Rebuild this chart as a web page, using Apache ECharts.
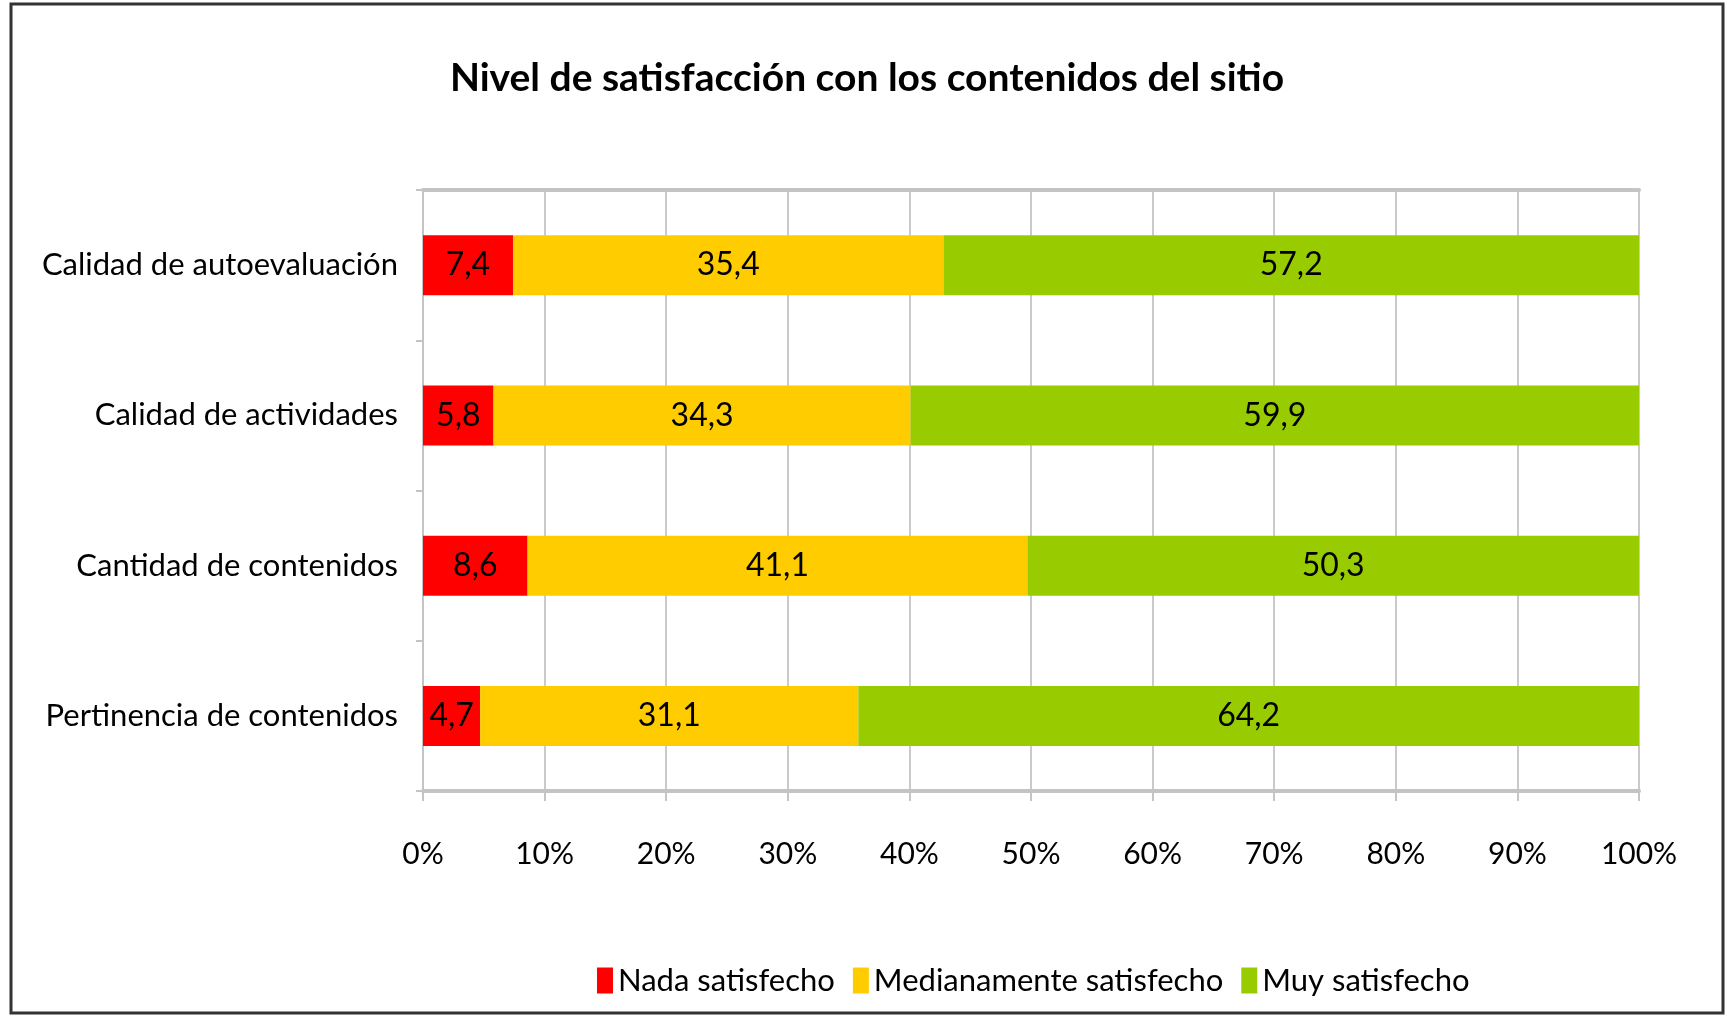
<!DOCTYPE html>
<html>
<head>
<meta charset="utf-8">
<script src="https://cdn.jsdelivr.net/npm/echarts@6/dist/echarts.min.js"></script>
<style>
  html, body { margin: 0; padding: 0; background: #fff; }
  #chart { width: 1727px; height: 1016px; }
</style>
</head>
<body>
<div id="chart"></div>
<script>
// datos (porcentajes)
var categorias = [
  "Calidad de autoevaluación",
  "Calidad de actividades",
  "Cantidad de contenidos",
  "Pertinencia de contenidos"
];
var nadaSatisfecho = [7.4, 5.8, 8.6, 4.7];
var medianamenteSatisfecho = [35.4, 34.3, 41.1, 31.1];
var muySatisfecho = [57.2, 59.9, 50.3, 64.2];
var nombresSeries = ["Nada satisfecho", "Medianamente satisfecho", "Muy satisfecho"];

var fuente = "Lato, 'Liberation Sans', sans-serif";

var chartDom = document.getElementById("chart");
var myChart = echarts.init(chartDom);

function serie(nombre, datos, color) {
  return {
    name: nombre,
    type: "bar",
    stack: "total",
    barWidth: 60,
    itemStyle: { color: color },
    label: {
      show: true,
      position: "inside",
      color: "#000",
      fontFamily: fuente,
      fontSize: 32,
      formatter: function (p) {
        return String(p.value).replace(".", ",");
      },
    },
    data: datos,
  };
}

var option = {
  animation: false,
  backgroundColor: "#fff",
  title: {
    text: "Nivel de satisfacción con los contenidos del sitio",
    left: 862,
    textAlign: "center",
    top: 54,
    textStyle: { fontFamily: fuente, fontSize: 39, fontWeight: "bold", color: "#000" },
  },
  legend: {
    data: nombresSeries,
    left: 592,
    top: 960,
    itemWidth: 16,
    itemHeight: 26,
    itemGap: 18,
    icon: "rect",
    textStyle: { fontFamily: fuente, fontSize: 31, color: "#000" },
  },
  grid: { left: 423, right: 88, top: 190, bottom: 225, containLabel: false },
  xAxis: [
    {
      type: "value",
      min: 0,
      max: 100,
      interval: 10,
      axisLine: { show: true, lineStyle: { color: "#c4c4c4", width: 4 } },
      axisTick: { show: true, length: 10, lineStyle: { color: "#c4c4c4", width: 2 } },
      axisLabel: {
        formatter: "{value}%",
        margin: 48,
        color: "#000",
        fontFamily: fuente,
        fontSize: 30,
      },
      splitLine: { show: true, lineStyle: { color: "#cacaca", width: 2 } },
    },
    {
      type: "value",
      position: "top",
      min: 0,
      max: 100,
      axisLine: { show: true, lineStyle: { color: "#c4c4c4", width: 4 } },
      axisTick: { show: false },
      axisLabel: { show: false },
      splitLine: { show: false },
    },
  ],
  yAxis: {
    type: "category",
    inverse: true,
    data: categorias,
    axisLine: { show: true, lineStyle: { color: "#c4c4c4", width: 2 } },
    axisTick: { show: true, length: 7, lineStyle: { color: "#c4c4c4", width: 2 } },
    axisLabel: { margin: 25, color: "#000", fontFamily: fuente, fontSize: 31 },
  },
  graphic: [
    {
      type: "rect",
      shape: { x: 11, y: 4, width: 1712, height: 1009 },
      style: { fill: "none", stroke: "#333", lineWidth: 3 },
      silent: true,
    },
  ],
  series: [
    serie(nombresSeries[0], nadaSatisfecho, "#ff0000"),
    serie(nombresSeries[1], medianamenteSatisfecho, "#ffcc00"),
    serie(nombresSeries[2], muySatisfecho, "#99cc00"),
  ],
};

option && myChart.setOption(option);
</script>
</body>
</html>
